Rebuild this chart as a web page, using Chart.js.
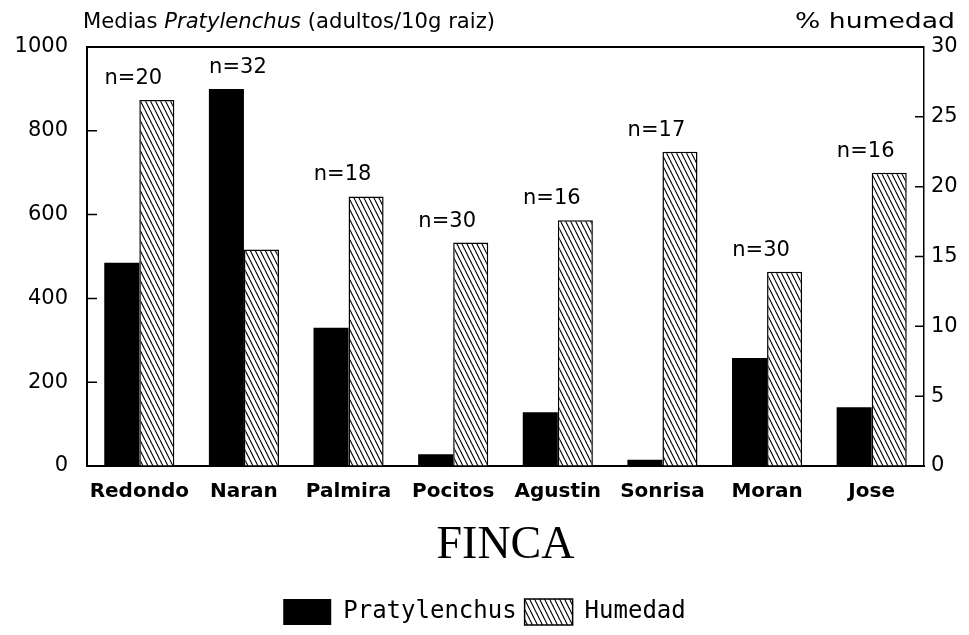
<!DOCTYPE html>
<html>
<head>
<meta charset="utf-8">
<script src="https://cdn.jsdelivr.net/npm/chart.js@4.4.1/dist/chart.umd.min.js"></script>
<style>
  html, body { margin: 0; padding: 0; background: #fff; }
  #wrap { width: 969px; height: 635px; }
</style>
</head>
<body>
<div id="wrap"><canvas id="c" width="969" height="635"></canvas></div>
<script>
// ---- data ----
const categories = ["Redondo", "Naran", "Palmira", "Pocitos", "Agustin", "Sonrisa", "Moran", "Jose"];
const pratylenchus = [485, 900, 330, 28, 128, 15, 258, 140];
const humedad = [26.2, 15.5, 19.3, 16.0, 17.6, 22.5, 13.9, 21.0];
const nSamples = [20, 32, 18, 30, 16, 17, 30, 16];
const leftTicks = [0, 200, 400, 600, 800, 1000];
const rightTicks = [0, 5, 10, 15, 20, 25, 30];

// ---- hatch pattern ----
function makeHatch() {
  const w = 5, h = 10;
  const c = document.createElement('canvas');
  c.width = w; c.height = h;
  const g = c.getContext('2d');
  g.fillStyle = '#fff'; g.fillRect(0, 0, w, h);
  g.strokeStyle = '#000'; g.lineWidth = 1.1;
  g.beginPath();
  for (const dx of [-w, 0, w]) { g.moveTo(dx, 0); g.lineTo(dx + w, h); }
  g.stroke();
  return g.createPattern(c, 'repeat');
}
const hatch = makeHatch();

const FONT = "'DejaVu Sans', sans-serif";
const MONO = "'DejaVu Sans Mono', monospace";

function fitText(ctx, parts, x, y, width) {
  let total = 0;
  parts.forEach(p => { ctx.font = p.font; p.w = ctx.measureText(p.text).width; total += p.w; });
  const f = width / total;
  ctx.save();
  ctx.translate(x, y);
  ctx.scale(f, 1);
  let cx = 0;
  parts.forEach(p => { ctx.font = p.font; ctx.fillText(p.text, cx, 0); cx += p.w; });
  ctx.restore();
}

const decor = {
  id: 'decor',
  afterDraw(chart) {
    const { ctx, chartArea: a, scales } = chart;
    const y = scales.y, y1 = scales.y1;
    ctx.save();
    ctx.strokeStyle = '#000';
    ctx.fillStyle = '#000';
    ctx.lineWidth = 2;
    ctx.beginPath();
    ctx.moveTo(a.left, a.top); ctx.lineTo(a.right, a.top);
    ctx.stroke();
    ctx.lineWidth = 1.5;
    ctx.beginPath();
    leftTicks.forEach(v => {
      if (v > 0 && v < 1000) { const py = y.getPixelForValue(v); ctx.moveTo(a.left, py); ctx.lineTo(a.left + 10, py); }
    });
    rightTicks.forEach(v => {
      if (v > 0 && v < 30) { const py = y1.getPixelForValue(v); ctx.moveTo(a.right, py); ctx.lineTo(a.right - 9, py); }
    });
    ctx.stroke();
    // n labels
    ctx.font = "21px " + FONT;
    ctx.textAlign = 'center';
    ctx.textBaseline = 'alphabetic';
    const m0 = chart.getDatasetMeta(0), m1 = chart.getDatasetMeta(1);
    categories.forEach((c, i) => {
      const b0 = m0.data[i], b1 = m1.data[i];
      const top = Math.min(b0.y, b1.y);
      const cx = (b0.x + b1.x) / 2 - 6;
      ctx.fillText('n=' + nSamples[i], cx, top - 16);
    });
    // header texts
    ctx.textAlign = 'left';
    fitText(ctx, [
      { text: 'Medias ', font: "22px " + FONT },
      { text: 'Pratylenchus', font: "italic 22px " + FONT },
      { text: ' (adultos/10g raiz)', font: "22px " + FONT }
    ], 83, 28, 412);
    fitText(ctx, [{ text: '% humedad', font: "22px " + FONT }], 795, 28, 160);
    ctx.restore();
  }
};

new Chart(document.getElementById('c'), {
  type: 'bar',
  data: {
    labels: categories,
    datasets: [
      {
        label: 'Pratylenchus',
        data: pratylenchus,
        yAxisID: 'y',
        backgroundColor: '#000',
        borderColor: '#000',
        borderWidth: 0
      },
      {
        label: 'Humedad',
        data: humedad,
        yAxisID: 'y1',
        backgroundColor: hatch,
        borderColor: '#000',
        borderWidth: 1.5
      }
    ]
  },
  options: {
    responsive: false,
    animation: false,
    devicePixelRatio: 1,
    categoryPercentage: 0.67,
    barPercentage: 1.0,
    layout: { padding: { top: 47, left: 0, right: 0, bottom: 0 } },
    plugins: {
      tooltip: { enabled: false },
      legend: {
        position: 'bottom',
        labels: {
          color: '#000',
          font: { family: MONO, size: 24 },
          boxWidth: 48,
          boxHeight: 26,
          padding: 8
        }
      }
    },
    scales: {
      x: {
        grid: { display: false, drawTicks: false },
        border: { display: true, color: '#000', width: 2 },
        ticks: { color: '#000', font: { family: FONT, size: 20, weight: 'bold' }, padding: 14, maxRotation: 0, autoSkip: false },
        title: { display: true, text: 'FINCA', color: '#000', font: { family: "'Liberation Serif', 'DejaVu Serif', serif", size: 46 }, padding: { top: 0, bottom: 17 } },
        afterFit(s) { s.height = 125; }
      },
      y: {
        position: 'left',
        min: 0, max: 1000,
        afterBuildTicks(s) { s.ticks = leftTicks.map(v => ({ value: v })); },
        grid: { drawOnChartArea: false, drawTicks: false },
        border: { display: true, color: '#000', width: 2 },
        ticks: { color: '#000', font: { family: FONT, size: 21 }, padding: 19, callback: v => String(v) },
        afterFit(s) { s.width = 87; }
      },
      y1: {
        position: 'right',
        min: 0, max: 30,
        afterBuildTicks(s) { s.ticks = rightTicks.map(v => ({ value: v })); },
        grid: { drawOnChartArea: false, drawTicks: false },
        border: { display: true, color: '#000', width: 1.5, dash: [7, 4] },
        ticks: { color: '#000', font: { family: FONT, size: 21 }, padding: 7, callback: v => String(v) },
        afterFit(s) { s.width = 45; }
      }
    }
  },
  plugins: [decor]
});
</script>
</body>
</html>
